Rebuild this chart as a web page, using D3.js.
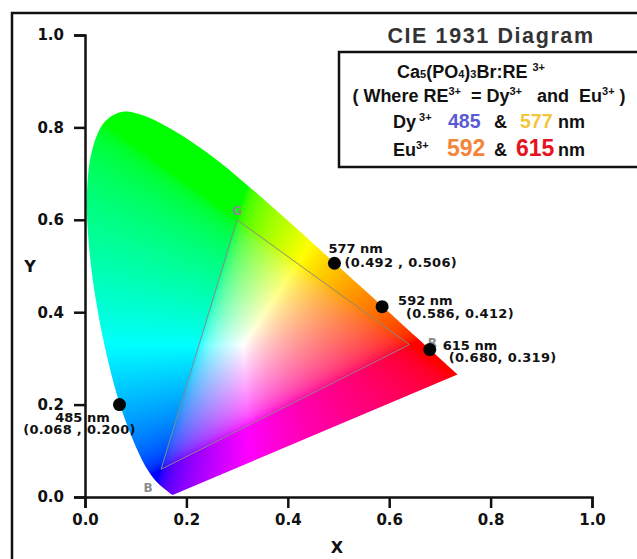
<!DOCTYPE html>
<html>
<head>
<meta charset="utf-8">
<script src="https://cdn.jsdelivr.net/npm/d3@7/dist/d3.min.js"></script>
<style>
  body { margin: 0; background: #fff; }
  svg { display: block; }
  text { white-space: pre; }
</style>
</head>
<body>
<svg id="chart" width="637" height="559"></svg>
<script>
// CIE 1931 2° spectral locus, 380–700 nm in 5 nm steps
const locusWavelengths = [380,385,390,395,400,405,410,415,420,425,430,435,440,445,450,455,460,465,470,475,480,485,490,495,500,505,510,515,520,525,530,535,540,545,550,555,560,565,570,575,580,585,590,595,600,605,610,615,620,625,630,635,640,645,650,655,660,665,670,675,680,685,690,695,700];
const locusX = [0.1741,0.1740,0.1738,0.1736,0.1733,0.1730,0.1726,0.1721,0.1714,0.1703,0.1689,0.1669,0.1644,0.1611,0.1566,0.1510,0.1440,0.1355,0.1241,0.1096,0.0913,0.0687,0.0454,0.0235,0.0082,0.0039,0.0139,0.0389,0.0743,0.1142,0.1547,0.1929,0.2296,0.2658,0.3016,0.3373,0.3731,0.4087,0.4441,0.4788,0.5125,0.5448,0.5752,0.6029,0.6270,0.6482,0.6658,0.6801,0.6915,0.7006,0.7079,0.7140,0.7190,0.7230,0.7260,0.7283,0.7300,0.7311,0.7320,0.7327,0.7334,0.7340,0.7344,0.7346,0.7347];
const locusY = [0.0050,0.0050,0.0049,0.0049,0.0048,0.0048,0.0048,0.0048,0.0051,0.0058,0.0069,0.0086,0.0109,0.0138,0.0177,0.0227,0.0297,0.0399,0.0578,0.0868,0.1327,0.2007,0.2950,0.4127,0.5384,0.6548,0.7502,0.8120,0.8338,0.8262,0.8059,0.7816,0.7543,0.7243,0.6923,0.6589,0.6245,0.5896,0.5547,0.5202,0.4866,0.4544,0.4242,0.3965,0.3725,0.3514,0.3340,0.3197,0.3083,0.2993,0.2920,0.2859,0.2809,0.2770,0.2740,0.2717,0.2700,0.2689,0.2680,0.2673,0.2666,0.2660,0.2656,0.2654,0.2653];

// sRGB primaries triangle
const gamutNames = ["R", "G", "B"];
const gamutX = [0.64, 0.30, 0.15];
const gamutY = [0.33, 0.60, 0.06];

// Emission peaks of Ca5(PO4)3Br:Dy3+/Eu3+
const peakNames = ["485 nm", "577 nm", "592 nm", "615 nm"];
const peakX = [0.068, 0.492, 0.586, 0.680];
const peakY = [0.200, 0.506, 0.412, 0.319];
const peakCoordLabels = ["(0.068 , 0.200)", "(0.492 , 0.506)", "(0.586, 0.412)", "(0.680, 0.319)"];

const tickValues = [0.0, 0.2, 0.4, 0.6, 0.8, 1.0];

const W = 637, H = 559;
const svg = d3.select("#chart");

const xScale = d3.scaleLinear().domain([0, 1]).range([85, 592]);
const yScale = d3.scaleLinear().domain([0, 1]).range([497, 35]);

// outer frame
svg.append("path")
  .attr("d", "M12,575V13H660")
  .attr("fill", "none").attr("stroke", "#111").attr("stroke-width", 2.5);

// ---- chromaticity fill rendered to a raster ----
const canvas = document.createElement("canvas");
canvas.width = W; canvas.height = H;
const ctx = canvas.getContext("2d");
const img = ctx.createImageData(W, H);
const gam = c => c <= 0.0031308 ? 12.92 * c : 1.055 * Math.pow(c, 1 / 2.4) - 0.055;
const px0 = Math.floor(xScale(0)) - 2, px1 = Math.ceil(xScale(0.76));
const py0 = Math.floor(yScale(0.86)), py1 = Math.ceil(yScale(0)) + 2;
for (let py = py0; py <= py1; py++) {
  for (let px = px0; px <= px1; px++) {
    const cx = xScale.invert(px + 0.5);
    let cy = Math.max(yScale.invert(py + 0.5), 0.003);
    const X = cx / cy, Y = 1, Z = (1 - cx - cy) / cy;
    let r = 3.2406 * X - 1.5372 * Y - 0.4986 * Z;
    let g = -0.9689 * X + 1.8758 * Y + 0.0415 * Z;
    let b = 0.0557 * X - 0.2040 * Y + 1.0570 * Z;
    r = Math.max(r, 0); g = Math.max(g, 0); b = Math.max(b, 0);
    const m = Math.max(r, g, b) || 1;
    const i = (py * W + px) * 4;
    img.data[i] = Math.round(255 * gam(r / m));
    img.data[i + 1] = Math.round(255 * gam(g / m));
    img.data[i + 2] = Math.round(255 * gam(b / m));
    img.data[i + 3] = 255;
  }
}
ctx.putImageData(img, 0, 0);

// smooth spectral locus, closed by the straight line of purples
const locusPts = locusX.map((x, i) => [x, locusY[i]]);
const locusCurve = d3.line().x(d => xScale(d[0])).y(d => yScale(d[1])).curve(d3.curveCatmullRom.alpha(0.5));
const polyLine = d3.line().x(d => xScale(d[0])).y(d => yScale(d[1])).curve(d3.curveLinearClosed);

svg.append("defs").append("clipPath").attr("id", "locusClip")
  .append("path").attr("d", locusCurve(locusPts) + "Z");

svg.append("image")
  .attr("href", canvas.toDataURL())
  .attr("x", 0).attr("y", 0).attr("width", W).attr("height", H)
  .attr("clip-path", "url(#locusClip)");

// sRGB triangle
const gamutPts = gamutX.map((x, i) => [x, gamutY[i]]);
svg.append("path")
  .attr("d", polyLine(gamutPts))
  .attr("fill", "none").attr("stroke", "#8a8a8a").attr("stroke-width", 1);

const gamutOffsets = { R: [23, 2], G: [0, -5], B: [-13, 23] };
svg.selectAll(".gamut-label").data(gamutNames).enter().append("text")
  .attr("class", "gamut-label")
  .attr("x", (d, i) => xScale(gamutX[i]) + gamutOffsets[d][0])
  .attr("y", (d, i) => yScale(gamutY[i]) + gamutOffsets[d][1])
  .attr("text-anchor", "middle")
  .attr("font-family", "'DejaVu Sans', sans-serif").attr("font-weight", "bold")
  .attr("font-size", 12).attr("fill", "#8c8c8c")
  .text(d => d);

// ---- axes ----
const fmt = d3.format(".1f");
const yAxis = svg.append("g").attr("transform", `translate(${xScale(0)},0)`)
  .call(d3.axisLeft(yScale).tickValues(tickValues).tickFormat(fmt).tickSize(11).tickPadding(10));
const xAxis = svg.append("g").attr("transform", `translate(0,${yScale(0)})`)
  .call(d3.axisBottom(xScale).tickValues(tickValues).tickFormat(fmt).tickSize(11).tickPadding(6));
[xAxis, yAxis].forEach(a => {
  a.selectAll("path, line").attr("stroke", "#111").attr("stroke-width", 2.5);
  a.selectAll("text").attr("font-family", "'DejaVu Sans', Verdana, sans-serif")
    .attr("font-weight", "bold").attr("font-size", 15).attr("fill", "#111");
});

svg.append("text").attr("x", 30).attr("y", 272).attr("text-anchor", "middle")
  .attr("font-family", "'DejaVu Sans', sans-serif").attr("font-weight", "bold")
  .attr("font-size", 16).attr("fill", "#111").text("Y");
svg.append("text").attr("x", 337).attr("y", 553).attr("text-anchor", "middle")
  .attr("font-family", "'DejaVu Sans', sans-serif").attr("font-weight", "bold")
  .attr("font-size", 16).attr("fill", "#111").text("X");

// ---- emission peaks ----
svg.selectAll(".peak").data(peakNames).enter().append("circle")
  .attr("class", "peak")
  .attr("cx", (d, i) => xScale(peakX[i]))
  .attr("cy", (d, i) => yScale(peakY[i]))
  .attr("r", 6.5).attr("fill", "#050505");

// label placement per peak: [name dx, name dy, coord dx, coord dy, anchor]
const labelPlace = [
  [-37, 17, -40, 29, "middle"],
  [-6, -10, 10, 4, "start"],
  [16, -2, 24, 11, "start"],
  [13, 0, 19, 12, "start"]
];
const labelFont = "'DejaVu Sans', Verdana, sans-serif";
peakNames.forEach((name, i) => {
  const cx = xScale(peakX[i]), cy = yScale(peakY[i]);
  const p = labelPlace[i];
  svg.append("text").attr("x", cx + p[0]).attr("y", cy + p[1])
    .attr("text-anchor", p[4]).attr("font-family", labelFont).attr("font-weight", "bold")
    .attr("font-size", 13).attr("fill", "#111").text(name);
  svg.append("text").attr("x", cx + p[2]).attr("y", cy + p[3])
    .attr("text-anchor", p[4]).attr("font-family", labelFont).attr("font-weight", "bold")
    .attr("font-size", 13).attr("letter-spacing", 0.3).attr("fill", "#111").text(peakCoordLabels[i]);
});

// ---- title and legend box ----
svg.append("text").attr("x", 491).attr("y", 43).attr("text-anchor", "middle")
  .attr("font-family", "'Liberation Sans', Arial, sans-serif").attr("font-weight", "bold")
  .attr("font-size", 21.5).attr("letter-spacing", 1.6).attr("fill", "#333").text("CIE 1931 Diagram");

svg.append("rect").attr("x", 339).attr("y", 52).attr("width", 330).attr("height", 115)
  .attr("fill", "#fff").attr("stroke", "#111").attr("stroke-width", 2.5);

const lf = "'Liberation Sans', Arial, sans-serif";
function addRuns(x, y, anchor, runs) {
  const t = svg.append("text").attr("x", x).attr("y", y).attr("text-anchor", anchor)
    .attr("font-family", lf).attr("font-weight", "bold").attr("font-size", 18).attr("fill", "#111");
  runs.forEach(r => {
    const s = t.append("tspan").text(r.t);
    if (r.x !== undefined) s.attr("x", r.x);
    if (r.dy) s.attr("dy", r.dy);
    if (r.size) s.attr("font-size", r.size);
    if (r.fill) s.attr("fill", r.fill);
  });
  return t;
}

addRuns(471, 78, "middle", [
  { t: "Ca" }, { t: "5", size: 11 }, { t: "(PO" }, { t: "4", size: 11 }, { t: ")" },
  { t: "3", size: 11 }, { t: "Br:RE " }, { t: "3+", size: 11, dy: -7 }
]);
addRuns(489, 102, "middle", [
  { t: "( Where RE" }, { t: "3+", size: 11, dy: -7 }, { t: "  = Dy", dy: 7 },
  { t: "3+", size: 11, dy: -7 }, { t: "   and  Eu", dy: 7 }, { t: "3+", size: 11, dy: -7 },
  { t: " )", dy: 7 }
]);
addRuns(393, 128, "start", [
  { t: "Dy" }, { t: " 3+", size: 11, dy: -7 },
  { t: "485", x: 448, dy: 7, size: 19.5, fill: "#5a5ad2" },
  { t: "&", x: 494 },
  { t: "577", x: 520, size: 19.5, fill: "#f2c63a" },
  { t: "nm", x: 558 }
]);
addRuns(393, 156, "start", [
  { t: "Eu" }, { t: "3+", size: 11, dy: -7 },
  { t: "592", x: 447, dy: 7, size: 23, fill: "#f3843a" },
  { t: "&", x: 494 },
  { t: "615", x: 516, size: 23, fill: "#e5131c" },
  { t: "nm", x: 558 }
]);
</script>
</body>
</html>
